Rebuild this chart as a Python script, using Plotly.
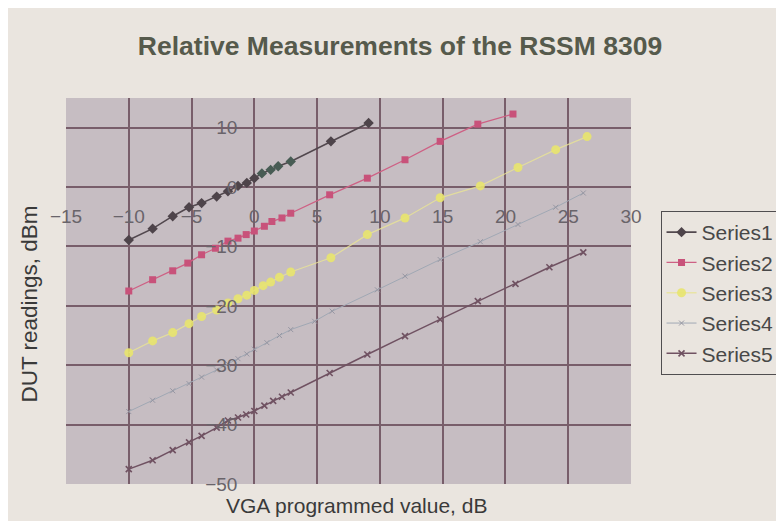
import plotly.graph_objects as go

# ---- data ----
s1_x = [-10, -8.1, -6.5, -5.2, -4.2, -3, -2.1, -1.3, -0.6, 0, 0.6, 1.3, 1.9, 2.9, 6.1, 9.1]
s1_y = [-8.9, -7.0, -4.9, -3.4, -2.7, -1.6, -0.7, 0.2, 0.7, 1.5, 2.3, 2.9, 3.5, 4.3, 7.7, 10.8]

s2_x = [-10, -8.1, -6.5, -5.3, -4.2, -3.1, -2.1, -1.3, -0.65, 0, 0.8, 1.4, 2.2, 2.9, 6, 9, 12, 14.8, 17.8, 20.6]
s2_y = [-17.5, -15.6, -14.1, -12.8, -11.4, -10.3, -9.1, -8.6, -8.0, -7.4, -6.6, -5.8, -5.2, -4.4, -1.3, 1.5, 4.6, 7.7, 10.6, 12.3]

s3_x = [-10, -8.1, -6.5, -5.2, -4.2, -3, -2.1, -1.3, -0.6, 0, 0.7, 1.3, 2, 2.9, 6.1, 9, 12, 14.8, 18, 21, 24, 26.5]
s3_y = [-27.9, -25.9, -24.5, -23, -21.8, -20.7, -19.5, -18.8, -18.2, -17.4, -16.6, -16, -15.2, -14.3, -11.9, -8.0, -5.2, -1.8, 0.2, 3.3, 6.3, 8.5]

s4_x = [-10, -8.1, -6.5, -5.2, -4.2, -3, -2.1, -1.3, -0.6, 0, 1, 2, 2.9, 4.8, 6.2, 9.8, 12, 14.8, 18, 21, 24, 26.2]
s4_y = [-37.8, -35.9, -34.3, -33.1, -32, -30.8, -29.8, -28.9, -28.1, -27.3, -26.2, -25, -24, -22.6, -20.9, -17.3, -15, -12.2, -9.2, -6.3, -3.4, -1.0]

s5_x = [-10, -8.1, -6.5, -5.2, -4.2, -3, -2.1, -1.3, -0.65, 0, 0.8, 1.5, 2.2, 2.9, 6, 9, 12, 14.8, 17.8, 20.8, 23.5, 26.2]
s5_y = [-47.5, -46, -44.3, -43, -41.9, -40.5, -39.3, -38.8, -38.3, -37.7, -36.8, -36, -35.3, -34.6, -31.3, -28.2, -25.1, -22.3, -19.2, -16.3, -13.5, -11.0]

series_names = ["Series1", "Series2", "Series3", "Series4", "Series5"]
x_ticks = [-15, -10, -5, 0, 5, 10, 15, 20, 25, 30]
y_ticks = [-50, -40, -30, -20, -10, 0, 10]

X_RANGE = [-15, 30]
Y_RANGE = [-50, 15]

title_text = "Relative Measurements of the RSSM 8309"
x_title = "VGA programmed value, dB"
y_title = "DUT readings, dBm"

# ---- styles ----
FONT = "Liberation Sans, Arial, sans-serif"
PAGE_BG = "rgb(234,229,223)"
PLOT_BG = "rgb(198,189,194)"
GRID = "rgb(120,94,106)"
TICK_FONT = dict(family=FONT, size=19, color="rgb(105,100,106)")

s1_colors = ["rgb(72,92,84)" if 0.5 <= v <= 3 else "rgb(78,68,74)" for v in s1_x]

fig = go.Figure()
fig.add_trace(go.Scatter(x=s1_x, y=s1_y, name=series_names[0], mode="lines+markers",
                         line=dict(color="rgb(82,72,78)", width=1.6),
                         marker=dict(symbol="diamond", size=8, color=s1_colors),
                         legendgroup="g1"))
fig.add_trace(go.Scatter(x=s2_x, y=s2_y, name=series_names[1], mode="lines+markers",
                         line=dict(color="rgb(206,96,132)", width=1.3),
                         marker=dict(symbol="square", size=7, color="rgb(200,82,122)"),
                         legendgroup="g2"))
fig.add_trace(go.Scatter(x=s3_x, y=s3_y, name=series_names[2], mode="lines+markers",
                         line=dict(color="rgba(232,228,150,0.8)", width=1.3),
                         marker=dict(symbol="circle", size=9, color="rgba(232,228,110,0.9)"),
                         legendgroup="g3"))
fig.add_trace(go.Scatter(x=s4_x, y=s4_y, name=series_names[3], mode="lines+markers",
                         line=dict(color="rgb(160,168,180)", width=1),
                         marker=dict(symbol="x-thin", size=5, color="rgb(150,150,162)",
                                     line=dict(width=1, color="rgb(150,150,162)")),
                         legendgroup="g4"))
fig.add_trace(go.Scatter(x=s5_x, y=s5_y, name=series_names[4], mode="lines+markers",
                         line=dict(color="rgb(112,82,98)", width=1.5),
                         marker=dict(symbol="x-thin", size=6, color="rgb(112,82,98)",
                                     line=dict(width=1.6, color="rgb(112,82,98)")),
                         legendgroup="g5"))

# axes cross inside the plot (Excel style): x labels sit near y=-2.7, y labels near x=-1.35
x_axis_pos = (-2.7 - Y_RANGE[0]) / (Y_RANGE[1] - Y_RANGE[0])
y_axis_pos = (-1.35 - X_RANGE[0]) / (X_RANGE[1] - X_RANGE[0])

fig.update_layout(
    width=784, height=521,
    margin=dict(l=58, r=152, t=90, b=45),
    paper_bgcolor=PAGE_BG,
    plot_bgcolor=PLOT_BG,
    showlegend=True,
    title=dict(text="<b>" + title_text + "</b>", x=0.5, xref="container", xanchor="center",
               y=1 - 38 / 521, yanchor="middle",
               font=dict(family=FONT, size=26.5, color="rgb(86,90,76)")),
    xaxis=dict(range=X_RANGE, tickvals=x_ticks, showgrid=True, gridcolor=GRID, gridwidth=1.6,
               zeroline=False, showline=False, ticks="", anchor="free", position=x_axis_pos,
               tickfont=TICK_FONT),
    yaxis=dict(range=Y_RANGE, tickvals=y_ticks, showgrid=True, gridcolor=GRID, gridwidth=1.6,
               zeroline=False, showline=False, ticks="", anchor="free", position=y_axis_pos,
               tickfont=TICK_FONT),
    legend=dict(x=(662 - 58) / 574, y=(476 - 203) / 386, xanchor="left", yanchor="top",
                bgcolor=PAGE_BG, bordercolor="rgb(80,78,80)", borderwidth=1,
                font=dict(family=FONT, size=21, color="rgb(72,72,72)"),
                tracegroupgap=0, itemwidth=30),
    annotations=[
        dict(text=x_title, xref="paper", yref="paper", x=(353 - 58) / 574, y=(476 - 497) / 386,
             xanchor="center", yanchor="middle", showarrow=False,
             font=dict(family=FONT, size=21, color="rgb(58,58,58)")),
        dict(text=y_title, xref="paper", yref="paper", x=(20 - 58) / 574, y=(476 - 296) / 386,
             xanchor="center", yanchor="middle", showarrow=False, textangle=-90,
             font=dict(family=FONT, size=22.5, color="rgb(58,58,58)")),
    ],
)

fig.write_html("out.html")
